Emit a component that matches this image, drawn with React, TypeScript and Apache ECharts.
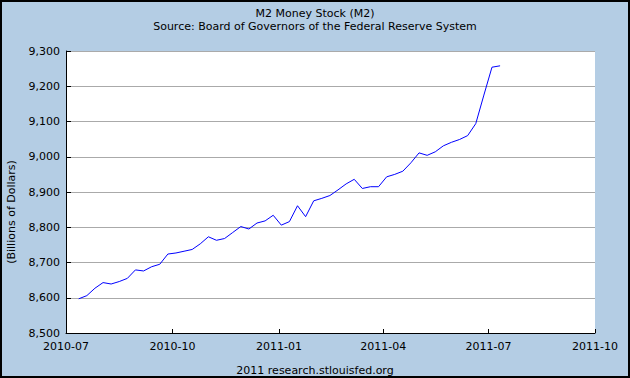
import React, { useEffect, useRef } from "react";
import * as echarts from "echarts";

const weeks: string[] = [
  "2010-07-12", "2010-07-19", "2010-07-26", "2010-08-02", "2010-08-09", "2010-08-16", "2010-08-23", "2010-08-30",
  "2010-09-06", "2010-09-13", "2010-09-20", "2010-09-27", "2010-10-04", "2010-10-11", "2010-10-18", "2010-10-25",
  "2010-11-01", "2010-11-08", "2010-11-15", "2010-11-22", "2010-11-29", "2010-12-06", "2010-12-13", "2010-12-20",
  "2010-12-27", "2011-01-03", "2011-01-10", "2011-01-17", "2011-01-24", "2011-01-31", "2011-02-07", "2011-02-14",
  "2011-02-21", "2011-02-28", "2011-03-07", "2011-03-14", "2011-03-21", "2011-03-28", "2011-04-04", "2011-04-11",
  "2011-04-18", "2011-04-25", "2011-05-02", "2011-05-09", "2011-05-16", "2011-05-23", "2011-05-30", "2011-06-06",
  "2011-06-13", "2011-06-20", "2011-06-27", "2011-07-04", "2011-07-11",
];

const m2Values: number[] = [
  8597, 8606, 8627, 8643, 8639, 8646, 8655, 8679,
  8676, 8688, 8695, 8724, 8727, 8732, 8737, 8753,
  8773, 8763, 8768, 8785, 8802, 8795, 8812, 8818,
  8834, 8806, 8816, 8861, 8830, 8875, 8882, 8890,
  8906, 8923, 8936, 8910, 8915, 8915, 8943, 8950,
  8959, 8983, 9011, 9004, 9014, 9031, 9041, 9049,
  9060, 9094, 9175, 9254, 9258,
];

const xTickLabels: string[] = ["2010-07", "2010-10", "2011-01", "2011-04", "2011-07", "2011-10"];
const yMin = 8500;
const yMax = 9300;
const yStep = 100;

const titleText = "M2 Money Stock (M2)";
const subtitleText = "Source: Board of Governors of the Federal Reserve System";
const yAxisName = "(Billions of Dollars)";
const footerText = "2011 research.stlouisfed.org";

function toTs(s: string): number {
  const p = s.split("-").map(Number);
  return Date.UTC(p[0], p[1] - 1, p[2] || 1);
}

export default function App() {
  const ref = useRef<HTMLDivElement>(null);
  useEffect(() => {
    if (!ref.current) return;
    const chart = echarts.init(ref.current, null, { renderer: "svg" });
    const font = "DejaVu Sans";
    const tickTs = xTickLabels.map(toTs);
    const data = weeks.map((w, i) => [toTs(w), m2Values[i]]);
    chart.setOption({
      animation: false,
      backgroundColor: "#B4CDE4",
      textStyle: { fontFamily: font },
      title: [
        {
          text: titleText,
          left: "center",
          top: 8,
          padding: 0,
          textStyle: { fontFamily: font, fontSize: 11, fontWeight: "normal", color: "#000" },
        },
        {
          text: subtitleText,
          left: "center",
          top: 21,
          padding: 0,
          textStyle: { fontFamily: font, fontSize: 11, fontWeight: "normal", color: "#000" },
        },
      ],
      grid: {
        left: 66,
        right: 35,
        top: 51,
        bottom: 45,
        show: true,
        backgroundColor: "#ffffff",
        borderWidth: 0,
      },
      xAxis: {
        type: "value",
        min: tickTs[0],
        max: tickTs[tickTs.length - 1],
        axisLine: { show: true, lineStyle: { color: "#000", width: 1 } },
        axisTick: { show: true, inside: true, length: 4, lineStyle: { color: "#000" }, customValues: tickTs },
        axisLabel: {
          customValues: tickTs,
          margin: 8,
          fontSize: 11,
          fontFamily: font,
          color: "#000",
          showMinLabel: true,
          showMaxLabel: true,
          formatter: (v: number) => {
            const idx = tickTs.indexOf(v);
            return idx >= 0 ? xTickLabels[idx] : "";
          },
        },
        splitLine: { show: false },
      },
      yAxis: {
        type: "value",
        min: yMin,
        max: yMax,
        interval: yStep,
        axisLine: { show: true, lineStyle: { color: "#000", width: 1 } },
        axisTick: { show: true, inside: true, length: 5, lineStyle: { color: "#000" } },
        axisLabel: {
          margin: 6,
          fontSize: 11,
          fontFamily: font,
          color: "#000",
          formatter: (v: number) => v.toLocaleString("en-US"),
        },
        splitLine: { show: true, lineStyle: { color: "#AAAAAA", width: 1 } },
      },
      series: [
        {
          type: "line",
          data,
          showSymbol: false,
          symbol: "none",
          lineStyle: { color: "#0000FF", width: 1 },
        },
      ],
      graphic: [
        {
          type: "text",
          x: 11,
          y: 212,
          rotation: Math.PI / 2,
          style: {
            text: yAxisName,
            fontFamily: font,
            fontSize: 11,
            fill: "#000",
            align: "center",
            verticalAlign: "middle",
          },
        },
        {
          type: "text",
          x: 315,
          y: 370,
          style: {
            text: footerText,
            fontFamily: font,
            fontSize: 11,
            fill: "#000",
            align: "center",
            verticalAlign: "middle",
          },
        },
        {
          type: "rect",
          shape: { x: 1, y: 1, width: 628, height: 376 },
          style: { fill: "none", stroke: "#000", lineWidth: 2 },
          silent: true,
        },
      ],
    });
    return () => chart.dispose();
  }, []);
  return (
    <div
      ref={ref}
      style={{ position: "absolute", left: 0, top: 0, width: 630, height: 378 }}
    />
  );
}
